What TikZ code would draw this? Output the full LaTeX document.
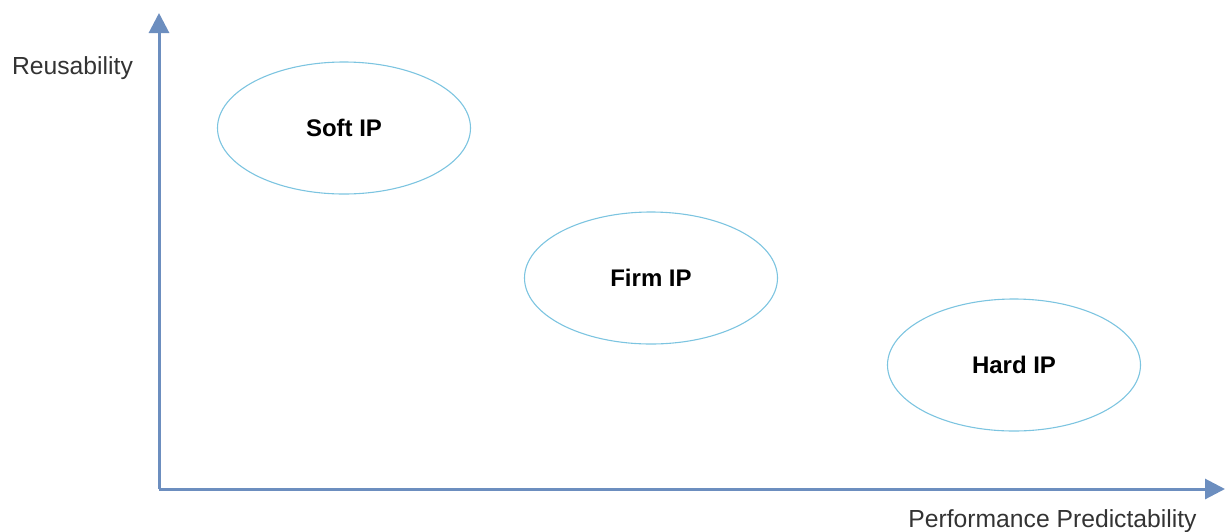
\documentclass[tikz,border=0pt]{standalone}
\usepackage{fontspec}
\setmainfont{Liberation Sans}
\usetikzlibrary{arrows.meta,shapes.geometric}
\definecolor{axisblue}{HTML}{6C8EBF}
\definecolor{ellblue}{HTML}{7CC4E0}
\tikzset{
  axis/.style={draw=axisblue, line width=3pt, -{Triangle[width=20pt,length=20pt]}},
  ipbox/.style={draw=ellblue, line width=1.1pt, ellipse, minimum width=253pt, minimum height=132pt, inner sep=0pt, font=\fontsize{24}{28}\selectfont\bfseries},
  lbl/.style={font=\fontsize{24.7}{29}\selectfont, text=black!80, anchor=base, inner sep=0pt}
}
\begin{document}
\begin{tikzpicture}[x=1pt,y=-1pt]
\useasboundingbox (0,0) rectangle (1231,531);
\coordinate (o) at (159,489);
\coordinate (ytip) at (159,13);
\coordinate (xtip) at (1225,489);
\draw[axis] (o) -- (ytip);
\draw[axis] (o) -- (xtip);
\node[ipbox] (soft) at (344,128) {Soft IP};
\node[ipbox] (firm) at (651,278) {Firm IP};
\node[ipbox] (hard) at (1014,365) {Hard IP};
\node[lbl] (reuse) at (72.5,74) {Reusability};
\node[lbl] (perf) at (1052.5,527) {Performance Predictability};
\end{tikzpicture}
\end{document}
